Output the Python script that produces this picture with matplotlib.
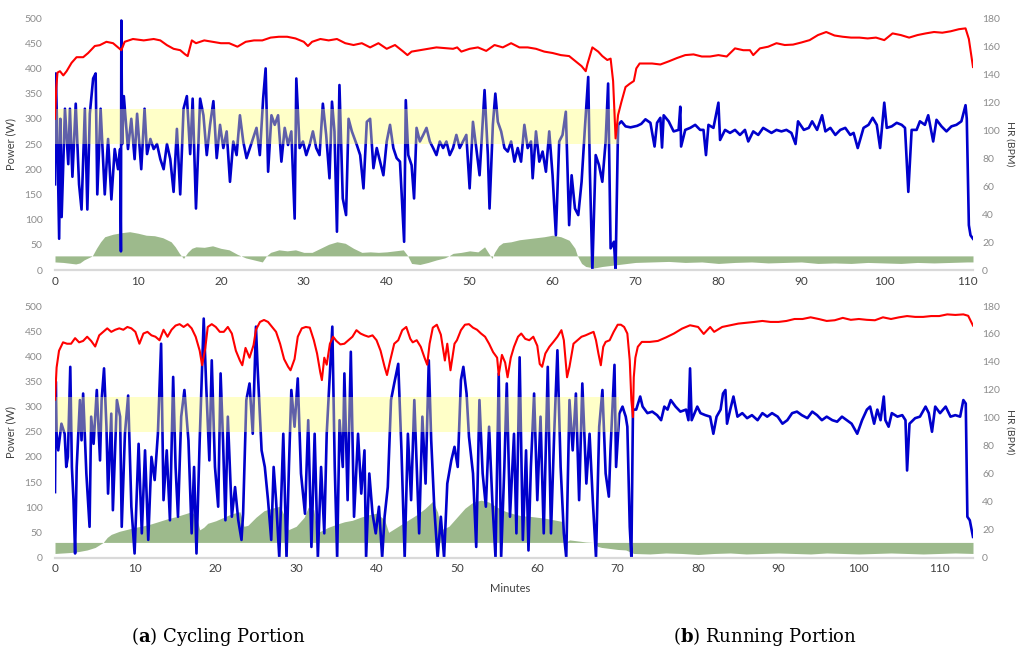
import matplotlib
matplotlib.use('Agg')
import matplotlib.pyplot as plt

# ---------------- data ----------------
# Top panel (a): power (W)
top_pw_t = [0.0,0.1,0.3,0.5,0.65,0.8,1.2,1.6,1.8,2.1,2.5,2.9,3.2,3.6,3.9,4.2,4.6,4.9,5.1,5.5,6.0,6.4,6.8,7.2,7.6,7.85,7.95,8.0,8.1,8.3,8.8,9.2,9.6,9.9,10.4,10.8,11.1,11.5,11.9,12.3,12.7,13.1,13.5,13.9,14.3,14.7,15.1,15.5,15.9,16.3,16.6,17.0,17.5,17.9,18.3,18.7,19.1,19.5,19.9,20.3,20.7,21.1,21.5,21.9,22.3,22.7,23.1,23.5,23.9,24.3,24.7,25.1,25.4,25.7,26.1,26.5,26.9,27.3,27.7,28.1,28.5,28.9,29.1,29.5,29.9,30.3,30.7,31.1,31.5,31.9,32.3,32.7,33.1,33.4,33.7,34.0,34.3,34.7,35.1,35.4,35.8,36.4,36.8,37.2,37.6,38.0,38.4,38.8,39.2,39.6,40.0,40.4,40.8,41.2,41.6,42.1,42.3,42.6,43.0,43.3,43.6,44.0,44.4,44.8,45.2,45.6,46.0,46.4,46.8,47.2,47.6,48.0,48.4,48.8,49.2,49.6,50.0,50.4,50.8,51.2,51.8,52.2,52.4,52.8,53.1,53.4,53.8,54.2,54.6,55.0,55.4,55.8,56.2,56.6,57.0,57.4,57.6,58.0,58.4,58.8,59.2,59.6,60.0,60.4,60.8,61.2,61.6,62.0,62.3,62.7,63.1,63.5,63.9,64.3,64.5,64.8,65.2,65.6,66.0,66.4,66.7,67.0,67.4,67.6,67.9,68.3,68.8,69.4,70.2,70.7,71.2,71.8,72.3,72.6,73.0,73.2,73.4,74.0,74.6,75.2,75.4,75.5,76.0,76.6,77.2,77.8,78.2,78.5,78.8,79.4,80.0,80.2,80.8,81.4,82.0,82.6,83.2,83.6,84.2,84.8,85.4,85.8,86.4,87.0,87.6,88.2,88.8,89.3,89.6,90.3,90.9,91.3,91.9,92.5,92.9,93.5,94.1,94.7,95.3,95.9,96.3,96.8,97.5,98.1,98.6,99.1,99.5,100.0,100.3,100.9,101.5,102.1,102.5,102.9,103.3,103.9,104.3,104.9,105.3,105.9,106.3,106.9,107.5,108.1,108.7,109.3,109.8,109.95,110.2,110.4,110.7]
top_pw = [170,390,250,62,300,105,320,210,320,185,330,170,120,320,120,310,380,390,150,320,150,260,140,240,200,240,37,495,250,345,240,300,220,310,200,320,230,260,240,250,220,200,250,220,155,280,150,320,345,230,340,122,340,307,228,288,335,222,288,242,275,175,255,228,307,255,222,242,262,282,228,340,400,195,307,288,307,215,282,248,275,102,380,242,255,228,248,275,242,228,330,268,182,334,275,76,367,142,109,300,275,248,228,162,294,300,202,242,215,188,255,288,242,222,215,56,337,228,208,142,282,255,268,282,255,242,228,255,242,255,228,242,268,242,255,268,162,294,242,188,357,228,122,288,350,294,275,242,235,255,215,242,215,288,242,255,182,275,215,235,195,275,188,69,255,268,314,89,188,122,109,175,282,383,195,0,228,208,175,255,370,43,56,0,288,295,285,283,286,290,299,292,245,292,302,243,307,295,275,278,324,245,278,282,288,278,278,228,288,282,332,258,278,272,278,268,278,255,275,268,282,278,272,278,275,278,272,250,295,278,282,295,278,307,275,282,268,278,282,268,272,242,282,288,302,288,242,332,282,285,292,288,282,155,278,278,295,288,307,255,298,285,275,285,288,295,327,300,89,69,62]

# Top panel (a): heart rate (BPM)
top_hr_t = [0.0,0.15,0.3,0.6,1.0,1.4,2.0,2.6,3.4,4.0,4.8,5.4,6.2,7.0,7.8,8.0,8.4,9.4,10.7,11.9,12.7,13.5,14.3,15.1,15.7,16.0,16.5,17.0,18.0,19.0,20.0,21.0,22.0,23.0,24.0,25.0,26.0,27.0,28.0,29.0,30.0,30.5,31.0,32.0,33.0,34.0,35.0,36.0,37.0,38.0,39.0,40.0,41.0,42.0,42.5,43.0,44.0,45.0,46.0,47.0,48.0,48.5,49.0,50.0,51.0,52.0,53.0,54.0,55.0,56.0,57.0,58.0,59.0,60.0,61.0,62.0,63.0,63.5,64.0,64.2,64.8,65.5,66.0,66.6,67.0,67.3,67.6,67.9,68.3,68.8,69.3,69.8,70.1,70.5,71.0,72.0,73.0,74.0,75.0,76.0,77.0,78.0,79.0,80.0,81.0,82.0,83.0,83.8,84.2,85.0,86.0,87.0,88.0,89.0,90.0,91.0,92.0,93.0,94.0,95.0,96.0,97.0,98.0,99.0,100.0,101.0,102.0,103.0,104.0,105.0,106.0,107.0,108.0,109.0,109.8,110.2,110.7]
top_hr = [108,130,141,142,139,142,148,152,152,155,160,160.6,163,162,158,157,163,165,164,165,164,160.6,158,157,154,152.8,164,162,164,163,162,162,159.5,163,164,164,166,166.6,166.6,165.4,163,160,163,165,164,165,162,160.7,162,159,162,158,160.7,156,153.5,156,157,158,159,158.5,158,159,156,158,159,156.5,160.7,159,162,159,159,158,156,155,153.5,152.8,148,145.6,142,147,159,156,152.8,150,151,135,94,110.7,120,130.7,133,135,144,147.5,147.5,147.5,146.8,149,151.4,153.5,154,152.5,152.5,153.5,152.5,158.3,157,157,153.5,158.3,159.5,162,160.7,161,162.5,164.2,167.8,170,167.5,166.6,166,166,165.4,166,164.2,169,167.8,166,167.8,169,170,169.5,170.5,172,172.6,165,145]

# Top panel (a): green area (W, around a 28 W base)
top_gr_t = [0,1,2,2.5,3,3.5,4.5,5,5.5,6,7,8,9,10,11,12,13,14,14.5,15,15.5,16,16.5,17,18,19,20,21,22,23,24,25,25.5,26,27,28,29,30,31,32,33,34,35,36,37,38,39,40,41,42,42.5,43,44,45,46,47,47.5,48,49,50,51,51.8,52.3,52.7,53,53.5,54,55,56,57,58,59,60,61,62,62.7,63,63.5,64,65,66,67,68,69,70,72,74,76,78,80,82,84,86,88,90,92,94,96,98,100,102,104,106,108,110,110.7]
top_gr = [16,15,13,12,14,20,28,43,56,66,71,74,76,73,69,68,64,56,46,33,23,35,43,46,45,48,43,40,31,24,20,16,28,35,40,38,40,35,35,43,51,56,53,43,35,36,35,36,38,40,29,13,11,15,20,24,28,33,35,38,36,46,33,23,35,48,54,56,60,62,64,66,69,66,59,43,28,13,7,4,7,9,11,13,15,16,17,15,16,13,15,16,14,15,16,13,14,13,15,14,13,15,14,15,16,16]

# Bottom panel (b): power (W)
bot_pw_t = [0.0,0.1,0.2,0.4,0.8,1.2,1.4,1.6,1.9,2.1,2.3,2.5,2.7,3.1,3.3,3.5,3.9,4.3,4.5,4.8,5.2,5.6,5.8,6.1,6.4,6.6,7.0,7.2,7.7,8.1,8.3,8.7,9.1,9.5,9.9,10.4,10.8,11.2,11.6,12.0,12.4,12.8,13.2,13.5,13.9,14.3,14.7,15.0,15.3,15.7,16.1,16.6,17.0,17.3,17.6,18.0,18.5,18.8,19.2,19.5,19.9,20.3,20.6,20.9,21.2,21.5,22.0,22.4,22.8,23.2,23.4,23.8,24.2,24.6,25.0,25.2,25.7,26.1,26.5,26.9,27.2,27.5,27.9,28.4,28.8,29.1,29.4,29.8,30.2,30.6,31.1,31.5,31.9,32.3,32.7,33.1,33.5,33.8,34.5,34.8,35.1,35.4,35.8,36.0,36.4,36.8,37.2,37.7,38.1,38.5,38.7,39.1,39.5,39.9,40.3,40.7,41.0,41.4,41.8,42.2,42.7,43.1,43.5,43.9,44.3,44.7,45.0,45.3,45.7,46.1,46.5,46.8,47.2,47.6,48.0,48.4,48.8,49.3,49.7,50.1,50.5,50.8,51.2,51.5,52.0,52.4,52.8,53.2,53.6,54.0,54.4,54.8,55.2,55.5,55.9,56.2,56.6,57.1,57.4,57.8,58.2,58.6,58.9,59.2,59.6,60.0,60.4,60.8,61.3,61.7,62.1,62.5,62.9,63.3,63.6,64.0,64.4,64.8,65.2,65.6,66.1,66.5,66.9,67.3,67.7,68.1,68.5,68.9,69.1,69.6,69.8,70.2,70.6,71.0,71.2,71.5,71.7,71.9,72.3,72.8,73.1,73.7,74.3,74.9,75.4,75.8,76.2,76.6,77.2,77.8,78.5,78.8,79.0,79.2,79.9,80.3,80.9,81.5,81.9,82.3,82.8,83.1,83.4,83.6,84.0,84.4,84.9,85.5,86.1,86.7,87.4,88.0,88.6,89.2,89.9,90.5,91.1,91.7,92.3,92.9,93.6,94.2,94.8,95.4,96.0,96.7,97.3,97.9,98.5,99.1,99.8,100.4,101.0,101.4,101.9,102.3,102.7,103.1,103.3,103.7,104.1,104.8,105.4,105.8,106.0,106.3,107.0,107.6,108.3,108.7,109.1,109.5,110.1,110.8,111.4,112.0,112.6,113.0,113.3,113.5,113.8,114.2]
bot_pw = [130,350,246,213,266,246,180,200,379,180,114,8,180,313,233,326,167,61,280,226,333,193,313,376,260,127,286,94,313,280,61,246,322,101,8,226,48,213,35,200,154,246,425,114,213,74,359,180,81,280,333,233,48,180,8,233,475,346,193,392,180,101,366,233,74,280,81,140,74,35,87,313,346,246,459,379,213,180,114,35,180,114,0,246,0,180,333,260,356,167,87,273,21,246,0,180,48,246,459,180,0,273,180,366,114,409,81,246,127,213,0,167,87,48,101,0,81,140,313,346,385,213,0,246,114,313,180,48,280,147,392,233,94,0,81,0,147,193,220,180,353,379,326,240,167,21,313,167,101,260,114,0,366,0,180,346,81,246,48,398,35,213,14,180,326,114,280,48,379,48,246,412,180,48,0,313,213,326,114,346,147,246,114,0,260,333,167,121,213,383,180,286,300,280,260,61,0,294,294,320,300,287,290,283,273,300,294,313,300,290,294,273,376,273,300,287,283,280,246,280,294,326,333,266,294,320,280,287,277,283,273,287,280,287,280,266,273,287,290,283,277,290,283,273,280,273,270,280,273,266,246,273,294,300,266,294,273,320,273,260,287,280,283,273,173,266,277,280,300,287,250,300,287,300,280,283,280,313,306,81,74,41]

# Bottom panel (b): heart rate (BPM)
bot_hr_t = [0.0,0.2,0.5,1.0,1.5,2.0,2.5,3.0,3.5,4.0,4.5,5.0,5.5,6.0,6.5,7.0,7.5,8.0,8.5,9.0,9.5,10.0,10.5,11.0,11.5,12.0,12.5,13.0,13.5,14.0,14.5,15.0,15.5,16.0,16.5,17.0,17.5,18.0,18.3,18.7,19.0,19.5,20.0,20.5,21.0,21.5,22.0,22.5,23.0,23.3,23.7,24.2,24.7,25.0,25.5,26.0,26.5,27.0,27.5,28.0,28.5,29.0,29.3,29.8,30.2,30.7,31.2,31.7,32.2,32.6,33.0,33.2,33.5,33.8,34.2,34.6,35.0,35.5,36.0,36.5,37.0,37.5,38.0,38.5,39.0,39.5,40.0,40.5,41.0,41.3,41.7,42.2,42.7,43.2,43.7,44.2,44.5,45.0,45.5,46.0,46.3,46.6,47.0,47.5,48.0,48.5,48.8,49.2,49.7,50.0,50.5,51.0,51.5,52.0,52.5,53.0,53.5,54.0,54.5,55.0,55.2,55.6,56.0,56.3,56.7,57.1,57.6,58.0,58.5,59.0,59.5,60.0,60.3,60.6,61.0,61.5,62.0,62.5,63.0,63.3,63.7,64.0,64.5,65.0,65.5,66.0,66.5,67.0,67.3,67.6,67.9,68.2,68.5,69.0,69.5,70.0,70.4,70.8,71.2,71.5,71.7,71.9,72.0,72.2,72.5,73.0,74.0,75.0,76.0,77.0,78.0,79.0,80.0,80.7,81.5,82.0,83.0,84.0,85.0,86.0,87.0,88.0,89.0,90.0,91.0,92.0,93.0,94.0,95.0,96.0,97.0,98.0,99.0,100.0,101.0,102.0,103.0,104.0,105.0,106.0,107.0,108.0,109.0,110.0,111.0,112.0,113.0,113.6,114.2]
bot_hr = [113,136,148,154,153,153,157,154,155,158,155,151,159,161.5,164,161.5,163,164,163,165,164,161.5,153,160.3,161.5,159,158,155.5,163,158,163,166,167,165,167,164,158,148,137.6,150,165,167,165,161.5,161.5,165,160.3,148,141,137.6,150,143,152,163,168.6,170,168.6,165,161.5,153,142,136.5,134,142,158,164,165,164.5,155.5,146,132.5,127,143,138,153,158,155,152.5,153,155.5,158,162.7,160.3,159,158,159,155.5,148,136.5,130.6,141,153,155.5,162.7,165,156.5,154,155.5,150.8,142.5,138,153,164.5,166.6,159.5,141,153,134,153,155.5,162.7,166.6,167,164.5,163,160.3,158,153,147,143,130.6,145,139.5,129,143,150.8,158,160.3,156.5,155.5,158,151.5,138.5,136.5,146,150.8,154.3,158,162.7,155.5,129,136.5,153,155.5,158,159,160.3,161.5,155.5,146,137.6,150.8,154.3,155.5,161.5,166.6,166.6,165,160.3,141,112.6,100.5,129,143,150.8,154.3,154.3,155,157.5,160.3,163.8,166.2,165,160,165,161.5,165,166.2,167.4,168,168.6,169.3,168.6,168.6,169.3,170.7,170.7,171.9,170.7,169.3,169.8,171.5,170.1,170.7,170.1,169.8,171.9,170.7,171.9,172.8,172.2,172.2,172.8,172.8,174,173.6,174,173,166]

# Bottom panel (b): green area (W, around a 30 W base)
bot_gr_t = [0,1,2,3,4,5,5.5,6,6.5,7,8,9,10,11,12,13,14,15,16,17,17.6,18,18.5,19,20,21,22,23,23.5,24,25,26,27,28,28.6,29,30,31,31.5,32.2,32.6,33,34,35,36,37,38,39,40,41,41.5,42,43,44,45,46,47,47.6,48,49,50,51,52,53,54,55,56,57,58,59,60,61,62,63,63.3,63.5,64,65,66,67,67.5,68,69,70,71,72,74,76,78,80,82,84,86,88,90,92,94,96,98,100,102,104,106,108,110,112,114.2]
bot_gr = [8,9,10,12,15,20,25,30,40,46,52,56,60,63,67,72,77,81,86,91,80,55,60,68,73,80,87,91,62,64,80,93,98,102,80,55,62,80,100,95,50,52,60,66,71,74,80,85,88,75,50,55,65,75,85,97,112,90,55,62,80,98,110,114,110,100,92,87,83,82,80,78,75,72,55,30,35,33,31,30,22,20,18,16,15,8,7,9,8,6,8,9,7,8,9,8,7,9,8,7,8,9,8,7,8,9,8]

top_band_end = 68.0
bot_band_end = 70.2
x_ticks = [0, 10, 20, 30, 40, 50, 60, 70, 80, 90, 100, 110]
pw_ticks = [0, 50, 100, 150, 200, 250, 300, 350, 400, 450, 500]
hr_ticks = [0, 20, 40, 60, 80, 100, 120, 140, 160, 180]

# ---------------- styling ----------------
BLUE = '#0000CC'
RED = '#FF0000'
GREEN = '#9DBA8C'
YELLOW = '#FFFF70'
TICK_GRAY = '#8C8C8C'
DARK = '#404040'
plt.rcParams['font.family'] = ['Lato', 'DejaVu Sans']
plt.rcParams['mathtext.fontset'] = 'custom'
plt.rcParams['mathtext.rm'] = 'DejaVu Serif'
plt.rcParams['mathtext.bf'] = 'DejaVu Serif:bold'

W, H = 1016, 651
fig = plt.figure(figsize=(W / 100, H / 100), dpi=100)


def px_axes(left, right, bottom, top):
    return fig.add_axes([left / W, 1 - bottom / H, (right - left) / W, (bottom - top) / H])


def panel(ax, xmax, pw_t, pw, hr_t, hr, gr_t, gr, base, band_end):
    ax.set_xlim(0, xmax)
    ax.set_ylim(0, 500)
    ax.fill_between(gr_t, base, gr, color=GREEN, lw=0, zorder=1)
    ax.plot(pw_t, pw, color=BLUE, lw=1.9, zorder=2, solid_joinstyle='round')
    ax.fill_between([0, band_end], 250, 320, color=YELLOW, alpha=0.38, lw=0, zorder=3)
    for s in ['top', 'left', 'right']:
        ax.spines[s].set_visible(False)
    ax.spines['bottom'].set_color('#D9D9D9')
    ax.spines['bottom'].set_linewidth(1.6)
    ax.set_xticks(x_ticks)
    ax.set_yticks(pw_ticks)
    ax.tick_params(axis='x', length=0, pad=4, labelsize=8.5, labelcolor=DARK)
    ax.tick_params(axis='y', length=0, pad=9, labelsize=7.5, labelcolor=TICK_GRAY)
    ax.set_ylabel('Power (W)', fontsize=8, color=DARK)
    ax.yaxis.set_label_coords(-0.042, 0.5)

    ax2 = ax.twinx()
    ax2.set_ylim(0, 180)
    ax2.plot(hr_t, hr, color=RED, lw=1.5, solid_joinstyle='round')
    for s in ax2.spines.values():
        s.set_visible(False)
    ax2.set_yticks(hr_ticks)
    ax2.tick_params(axis='y', length=0, pad=6.5, labelsize=7.5, labelcolor=TICK_GRAY)
    ax2.set_ylabel('HR (BPM)', fontsize=7.5, color=DARK, rotation=270, va='center', ha='center')
    ax2.yaxis.set_label_coords(1.040, 0.5)
    return ax, ax2


ax_top = px_axes(55, 973, 270, 18)
panel(ax_top, 110.7, top_pw_t, top_pw, top_hr_t, top_hr, top_gr_t, top_gr, 28, top_band_end)

ax_bot = px_axes(55, 973, 557.5, 306)
panel(ax_bot, 114.2, bot_pw_t, bot_pw, bot_hr_t, bot_hr, bot_gr_t, bot_gr, 30, bot_band_end)

fig.text(510 / W, 1 - 588 / H, 'Minutes', ha='center', va='center', fontsize=8, color=DARK)
fig.text(218 / W, 1 - 636 / H, r'($\mathbf{a}$) Cycling Portion', ha='center', va='center',
         fontsize=13, family='DejaVu Serif', color='black')
fig.text(765 / W, 1 - 636 / H, r'($\mathbf{b}$) Running Portion', ha='center', va='center',
         fontsize=13, family='DejaVu Serif', color='black')

fig.savefig('out.png', dpi=100)
